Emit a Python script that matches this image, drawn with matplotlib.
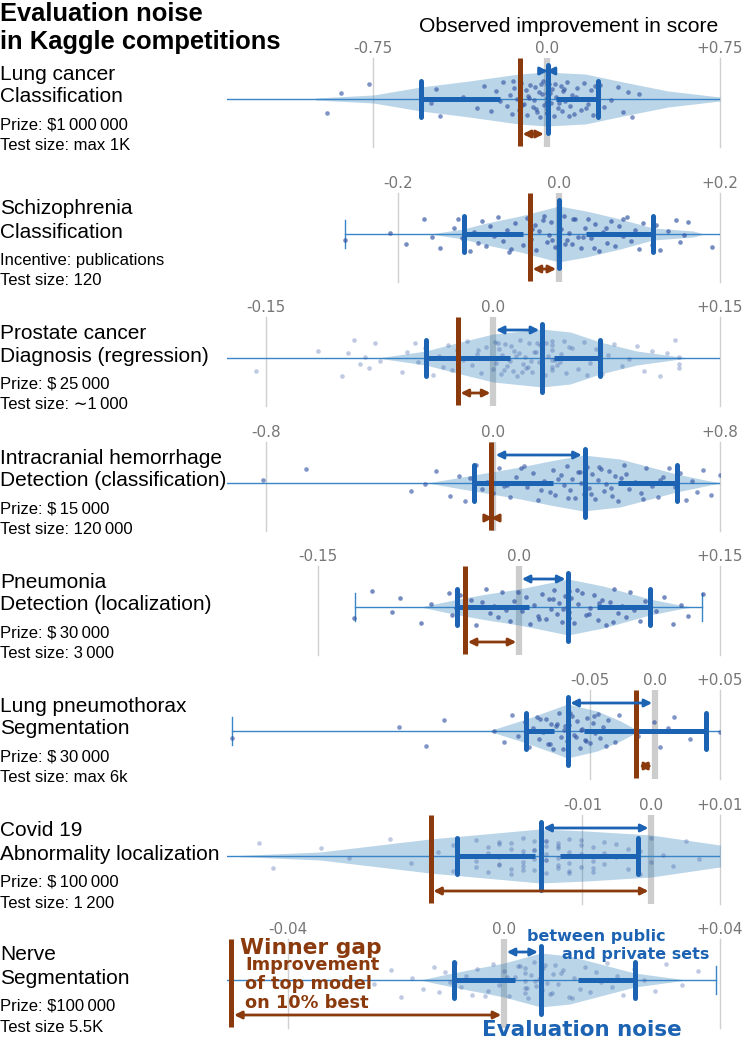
import numpy as np
import matplotlib
matplotlib.use('Agg')
import matplotlib.pyplot as plt

W, H = 747, 1041

# ---------------- data ----------------
head1 = ['Lung cancer', 'Schizophrenia', 'Prostate cancer', 'Intracranial hemorrhage',
         'Pneumonia', 'Lung pneumothorax', 'Covid 19', 'Nerve']
head2 = ['Classification', 'Classification', 'Diagnosis (regression)', 'Detection (classification)',
         'Detection (localization)', 'Segmentation', 'Abnormality localization', 'Segmentation']
info1 = ['Prize: $1\u2009000\u2009000', 'Incentive: publications', 'Prize: $\u200925\u2009000',
         'Prize: $\u200915\u2009000', 'Prize: $\u200930\u2009000', 'Prize: $\u200930\u2009000',
         'Prize: $\u2009100\u2009000', 'Prize: $100\u2009000']
info2 = ['Test size: max 1K', 'Test size: 120', 'Test size: \u223c1\u2009000', 'Test size: 120\u2009000',
         'Test size: 3\u2009000', 'Test size: max 6k', 'Test size: 1\u2009200', 'Test size 5.5K']

span = [0.75, 0.2, 0.15, 0.8, 0.15, 0.05, 0.01, 0.04]
span_txt = ['0.75', '0.2', '0.15', '0.8', '0.15', '0.05', '0.01', '0.04']
x_left = [-1.383, -0.412, -0.176, -0.937, -0.218, -0.329, -0.0617, -0.0513]

whisk_lo = [-1.45, -0.265, -0.20, -1.0, -0.1227, -0.325, -0.07, -0.06]
whisk_hi = [0.76, 0.21, 0.16, 0.85, 0.1366, 0.06, 0.02, 0.0392]
cap_lo = [-0.543, -0.118, -0.0447, -0.068, -0.046, -0.099, -0.0282, -0.0093]
gap_lo = [-0.20, -0.044, 0.0114, 0.213, 0.0075, -0.0774, -0.0169, 0.002]
gap_hi = [0.04, 0.034, 0.040, 0.442, 0.058, -0.0545, -0.0132, 0.0137]
cap_hi = [0.224, 0.117, 0.0708, 0.65, 0.098, 0.0395, -0.0019, 0.0242]
median = [0.005, 0.0, 0.0323, 0.3226, 0.0367, -0.0672, -0.0161, 0.0068]
winner = [-0.116, -0.036, -0.0234, -0.007, -0.0403, -0.0143, -0.0321, -0.0505]

pts_lung = [-0.95, -0.89, -0.77, -0.50, -0.48, -0.46, -0.36, -0.30, -0.27, -0.24, -0.22, -0.20,
            -0.19, -0.17, -0.16, -0.15, -0.14, -0.13, -0.12, -0.11, -0.10, -0.09, -0.085, -0.08,
            -0.07, -0.06, -0.055, -0.05, -0.04, -0.035, -0.03, -0.02, -0.015, -0.01, 0.0, 0.0,
            0.0, 0.0, 0.0, 0.0, 0.01, 0.02, 0.025, 0.03, 0.04, 0.05, 0.06, 0.065, 0.07, 0.08,
            0.09, 0.10, 0.11, 0.12, 0.13, 0.14, 0.15, 0.16, 0.18, 0.19, 0.20, 0.22, 0.23, 0.25,
            0.28, 0.31, 0.33, 0.35, 0.37, 0.40, -0.145, -0.105, -0.075, -0.045, -0.025, 0.0,
            0.0, 0.015, 0.035, 0.055, 0.075, 0.095, 0.125, 0.17, 0.21]
pts_schizo = [-0.265, -0.21, -0.19, -0.168, -0.157, -0.147, -0.13, -0.125, -0.12, -0.118, -0.11,
              -0.105, -0.10, -0.095, -0.09, -0.085, -0.08, -0.075, -0.07, -0.065, -0.06, -0.055,
              -0.05, -0.045, -0.04, -0.035, -0.03, -0.028, -0.025, -0.02, -0.015, -0.012, -0.01,
              -0.005, 0.0, 0.0, 0.003, 0.006, 0.01, 0.013, 0.016, 0.02, 0.024, 0.028, 0.032, 0.036,
              0.04, 0.045, 0.05, 0.055, 0.06, 0.065, 0.07, 0.075, 0.08, 0.085, 0.09, 0.095, 0.10,
              0.105, 0.11, 0.115, 0.117, 0.117, 0.12, 0.125, 0.135, 0.145, 0.15, 0.155, 0.16, 0.19,
              -0.118, -0.062, -0.033, -0.018, -0.008, 0.0, 0.008, 0.018, 0.03, 0.043, 0.058, 0.08]
pts_prostate = [-0.157, -0.116, -0.10, -0.096, -0.092, -0.088, -0.085, -0.082, -0.078, -0.075,
                -0.06, -0.057, -0.052, -0.05, -0.045, -0.04, -0.036, -0.033, -0.03, -0.027,
                -0.024, -0.02, -0.017, -0.014, -0.011, -0.008, -0.005, -0.002, 0.0, 0.001, 0.002,
                0.004, 0.005, 0.006, 0.008, 0.009, 0.01, 0.012, 0.013, 0.014, 0.016, 0.017, 0.018,
                0.02, 0.021, 0.022, 0.024, 0.025, 0.026, 0.028, 0.029, 0.03, 0.032, 0.034, 0.036,
                0.039, 0.039, 0.039, 0.039, 0.039, 0.039, 0.042, 0.045, 0.048, 0.05, 0.053, 0.056,
                0.06, 0.064, 0.068, 0.072, 0.076, 0.08, 0.085, 0.09, 0.095, 0.10, 0.105, 0.11,
                0.115, 0.12, 0.123, 0.123, 0.123, 0.003, 0.011, 0.019, 0.027, 0.035, 0.044, 0.052,
                0.062, 0.015, 0.023, 0.031, 0.007, -0.01, 0.041, 0.047]
pts_hemorr = [-0.81, -0.66, -0.29, -0.24, -0.20, -0.15, -0.12, -0.10, -0.08, -0.06, -0.04, -0.02,
              0.0, 0.02, 0.04, 0.06, 0.08, 0.10, 0.12, 0.14, 0.16, 0.18, 0.20, 0.21, 0.22, 0.24,
              0.25, 0.26, 0.27, 0.28, 0.29, 0.30, 0.31, 0.32, 0.33, 0.34, 0.35, 0.36, 0.37, 0.38,
              0.39, 0.40, 0.41, 0.42, 0.43, 0.44, 0.45, 0.46, 0.48, 0.50, 0.52, 0.54, 0.56, 0.58,
              0.60, 0.62, 0.64, 0.66, 0.68, 0.70, 0.72, 0.74, 0.77, 0.80, 0.05, 0.11, 0.17, 0.23,
              0.265, 0.305, 0.325, 0.345, 0.375, 0.415, 0.47, 0.53, 0.59]
pts_pneumo = [-0.123, -0.110, -0.095, -0.089, -0.073, -0.066, -0.052, -0.050, -0.047, -0.044,
              -0.040, -0.036, -0.032, -0.028, -0.025, -0.022, -0.019, -0.016, -0.013, -0.010,
              -0.007, -0.004, -0.001, 0.002, 0.005, 0.008, 0.011, 0.014, 0.017, 0.020, 0.022,
              0.024, 0.026, 0.028, 0.030, 0.032, 0.034, 0.036, 0.037, 0.037, 0.037, 0.039, 0.041,
              0.044, 0.047, 0.050, 0.053, 0.056, 0.059, 0.062, 0.065, 0.068, 0.071, 0.074, 0.077,
              0.080, 0.083, 0.086, 0.090, 0.094, 0.098, 0.102, 0.108, 0.115, 0.121, 0.126, 0.137,
              0.015, 0.025, 0.033, 0.043, 0.052, 0.06, 0.07]
pts_thorax = [-0.325, -0.197, -0.176, -0.162, -0.124, -0.116, -0.110, -0.105, -0.100, -0.097,
              -0.094, -0.091, -0.089, -0.086, -0.084, -0.082, -0.080, -0.078, -0.076, -0.074,
              -0.072, -0.070, -0.068, -0.067, -0.067, -0.067, -0.066, -0.064, -0.062, -0.060,
              -0.058, -0.056, -0.054, -0.052, -0.050, -0.048, -0.046, -0.044, -0.042, -0.040,
              -0.038, -0.036, -0.034, -0.031, -0.028, -0.013, -0.001, 0.004, 0.010, 0.015,
              0.027, 0.050, -0.088, -0.081, -0.075, -0.071, -0.069, -0.065, -0.061, -0.057,
              -0.053, -0.047]
pts_covid = [-0.057, -0.055, -0.048, -0.044, -0.038, -0.035, -0.031, -0.0289, -0.0289, -0.0272,
             -0.0255, -0.0255, -0.0255, -0.0238, -0.0238, -0.0238, -0.0221, -0.0221, -0.0221,
             -0.0221, -0.0204, -0.0204, -0.0204, -0.0187, -0.0187, -0.0187, -0.0187, -0.0187,
             -0.0170, -0.0170, -0.0170, -0.0170, -0.0153, -0.0153, -0.0153, -0.0153, -0.0153,
             -0.0136, -0.0136, -0.0136, -0.0136, -0.0136, -0.0119, -0.0119, -0.0119, -0.0119,
             -0.0102, -0.0102, -0.0102, -0.0102, -0.0085, -0.0085, -0.0085, -0.0068, -0.0068,
             -0.0068, -0.0051, -0.0051, -0.0034, -0.0034, -0.0017, -0.0017, 0.0, 0.0, 0.0017,
             0.0031, 0.005, 0.0069, -0.0187, -0.0170, -0.0153, -0.0153, -0.0136, -0.0119,
             -0.0102, -0.0221, -0.0204, -0.0085]
pts_nerve = [-0.024, -0.021, -0.019, -0.017, -0.015, -0.013, -0.012, -0.011, -0.010, -0.009,
             -0.008, -0.007, -0.006, -0.005, -0.004, -0.003, -0.002, -0.001, 0.0, 0.001, 0.002,
             0.003, 0.0038, 0.0038, 0.0038, 0.0038, 0.0038, 0.0045, 0.005, 0.0055, 0.006, 0.0065,
             0.007, 0.0075, 0.008, 0.0085, 0.009, 0.0095, 0.010, 0.011, 0.012, 0.013, 0.014, 0.015,
             0.016, 0.017, 0.018, 0.019, 0.020, 0.021, 0.022, 0.024, 0.026, 0.028, 0.030, 0.033,
             0.036, -0.0035, 0.0005, 0.0025, 0.0042, 0.0058, 0.0072, 0.0088, 0.0105, 0.0125]
points = [pts_lung, pts_schizo, pts_prostate, pts_hemorr, pts_pneumo, pts_thorax, pts_covid, pts_nerve]

# violin outlines: positions and half widths (px)
vio_x = [[-1.0, -0.75, -0.545, -0.336, -0.12, 0.0, 0.167, 0.31, 0.526, 0.75],
         [-0.16, -0.119, -0.09, -0.048, 0.0, 0.034, 0.076, 0.117, 0.167, 0.18],
         [-0.0766, -0.0447, -0.0216, 0.0, 0.0323, 0.051, 0.0708, 0.095, 0.124, 0.13],
         [-0.232, -0.068, 0.096, 0.2, 0.318, 0.448, 0.647, 0.765, 0.80],
         [-0.0738, -0.0452, -0.024, 0.0, 0.0367, 0.0628, 0.0976, 0.12, 0.13],
         [-0.128, -0.099, -0.0672, -0.0443, -0.0265, -0.0137],
         [-0.0618, -0.0482, -0.0322, -0.0162, -0.0094, 0.0, 0.01, 0.012],
         [-0.0156, -0.0095, 0.0, 0.0068, 0.0122, 0.0242, 0.0338]]
vio_w = [[1, 4, 12, 18, 25, 27, 25, 18, 8, 2],
         [0, 5, 11, 18, 28, 23, 15, 6, 3, 0],
         [0, 7, 16, 24, 29, 26, 16, 7, 1, 0],
         [0, 8, 16, 22, 28, 24, 9, 2, 0.5],
         [0, 8, 13, 18, 28, 21, 8, 2, 0],
         [0, 12, 27, 20, 10, 1],
         [0, 4, 17, 27, 25, 21, 11, 8],
         [0, 7, 17, 27, 24, 7, 0]]

# ---------------- style / layout ----------------
centers = [99, 234, 358, 483, 607, 731, 856, 980]
JIT = [-14, 6, 15, -4, 10, -17, 2, -9, 13, -12, 8, -2, 17, -7, 4, -15, 11, 0, -11, 16,
       -5, 9, -16, 3, 14, -8, -1, 12, -13, 7, -18, 5, 18, -6, 1, -10, 15, -3]
pt_alpha = [0.6, 0.65, 0.3, 0.6, 0.65, 0.6, 0.3, 0.3]
BLUE = '#1c63b3'
BROWN = '#8a3a0c'
THIN = '#3a85c8'
SANS = ['Liberation Sans', 'DejaVu Sans']

fig = plt.figure(figsize=(W / 100, H / 100), dpi=100)


def fx(px):
    return px / W


def fy(py):
    return 1 - py / H


fig.text(0, fy(14), 'Evaluation noise', fontsize=18.4, fontweight='bold', family=SANS, va='center')
fig.text(0, fy(42), 'in Kaggle competitions', fontsize=18.4, fontweight='bold', family=SANS, va='center')
fig.text(fx(569), fy(27), 'Observed improvement in score', fontsize=15.2, family=SANS,
         ha='center', va='center')

for i in range(8):
    cy = centers[i]
    fig.text(0, fy(cy - 25), head1[i], fontsize=15, family=SANS, va='center')
    fig.text(0, fy(cy - 2), head2[i], fontsize=15, family=SANS, va='center')
    fig.text(0, fy(cy + 26), info1[i], fontsize=12, family=SANS, va='center')
    fig.text(0, fy(cy + 47), info2[i], fontsize=12, family=SANS, va='center')

    ax = fig.add_axes([fx(227), fy(cy + 48), 493 / W, 89 / H])
    ax.set_xlim(x_left[i], span[i])
    ax.set_ylim(-48, 41)
    for s in ax.spines.values():
        s.set_visible(False)
    ax.set_yticks([])
    ax.xaxis.set_ticks_position('top')
    ax.set_xticks([-span[i], 0, span[i]])
    ax.set_xticklabels(['-' + span_txt[i], '0.0', '+' + span_txt[i]])
    ax.tick_params(axis='x', length=0, pad=1.5, labelsize=11, labelcolor='#777777')
    ax.patch.set_alpha(0)

    for v in (-span[i], span[i]):
        ax.axvline(v, color='#d0d0d0', lw=1, zorder=0, clip_on=False)
    ax.axvline(0, color='#cdcdcd', lw=4.5, zorder=0)

    vw = np.array(vio_w[i], dtype=float)
    ax.fill_between(vio_x[i], -vw, vw, color='#1f77b4', alpha=0.3, lw=0, zorder=1)

    ax.plot([whisk_lo[i], whisk_hi[i]], [0, 0], color=THIN, lw=1, zorder=2)
    for w in (whisk_lo[i], whisk_hi[i]):
        ax.plot([w, w], [-14, 14], color=THIN, lw=1, zorder=2)

    jit = np.resize(np.roll(JIT, 5 * i), len(points[i]))
    ax.scatter(points[i], jit, s=11, color='#2c4fa0', alpha=pt_alpha[i], lw=0, zorder=3)

    ax.plot([cap_lo[i], gap_lo[i]], [0, 0], color=BLUE, lw=3.6, solid_capstyle='butt', zorder=4)
    ax.plot([gap_hi[i], cap_hi[i]], [0, 0], color=BLUE, lw=3.6, solid_capstyle='butt', zorder=4)
    for c in (cap_lo[i], cap_hi[i]):
        ax.plot([c, c], [-18, 18], color=BLUE, lw=3.6, solid_capstyle='round', zorder=4)
    ax.plot([median[i]] * 2, [-34, 34], color=BLUE, lw=3.6, solid_capstyle='round', zorder=4)

    ax.plot([winner[i]] * 2, [-47, 41], color=BROWN, lw=3.6, solid_capstyle='butt', zorder=5)

    ax.annotate('', xy=(0, -35), xytext=(winner[i], -35),
                arrowprops=dict(arrowstyle='<|-|>', color=BROWN, lw=2, shrinkA=2, shrinkB=2,
                                mutation_scale=11), zorder=5)
    if median[i] != 0:
        ax.annotate('', xy=(median[i], 28), xytext=(0, 28),
                    arrowprops=dict(arrowstyle='<|-|>', color=BLUE, lw=2, shrinkA=2, shrinkB=2,
                                    mutation_scale=11), zorder=5)

# annotations of the last panel
BOLD = dict(family='DejaVu Sans', fontweight='bold', va='center')
fig.text(fx(240), fy(948), 'Winner gap', fontsize=15.7, color=BROWN, **BOLD)
fig.text(fx(245), fy(984), 'Improvement\nof top model\non 10% best', fontsize=12.8,
         color=BROWN, linespacing=1.08, **BOLD)
fig.text(fx(527), fy(937), 'between public', fontsize=11.5, color=BLUE, **BOLD)
fig.text(fx(562), fy(955), 'and private sets', fontsize=11.5, color=BLUE, **BOLD)
fig.text(fx(482), fy(1030), 'Evaluation noise', fontsize=15.5, color=BLUE, **BOLD)

fig.savefig('out.png', dpi=100)
